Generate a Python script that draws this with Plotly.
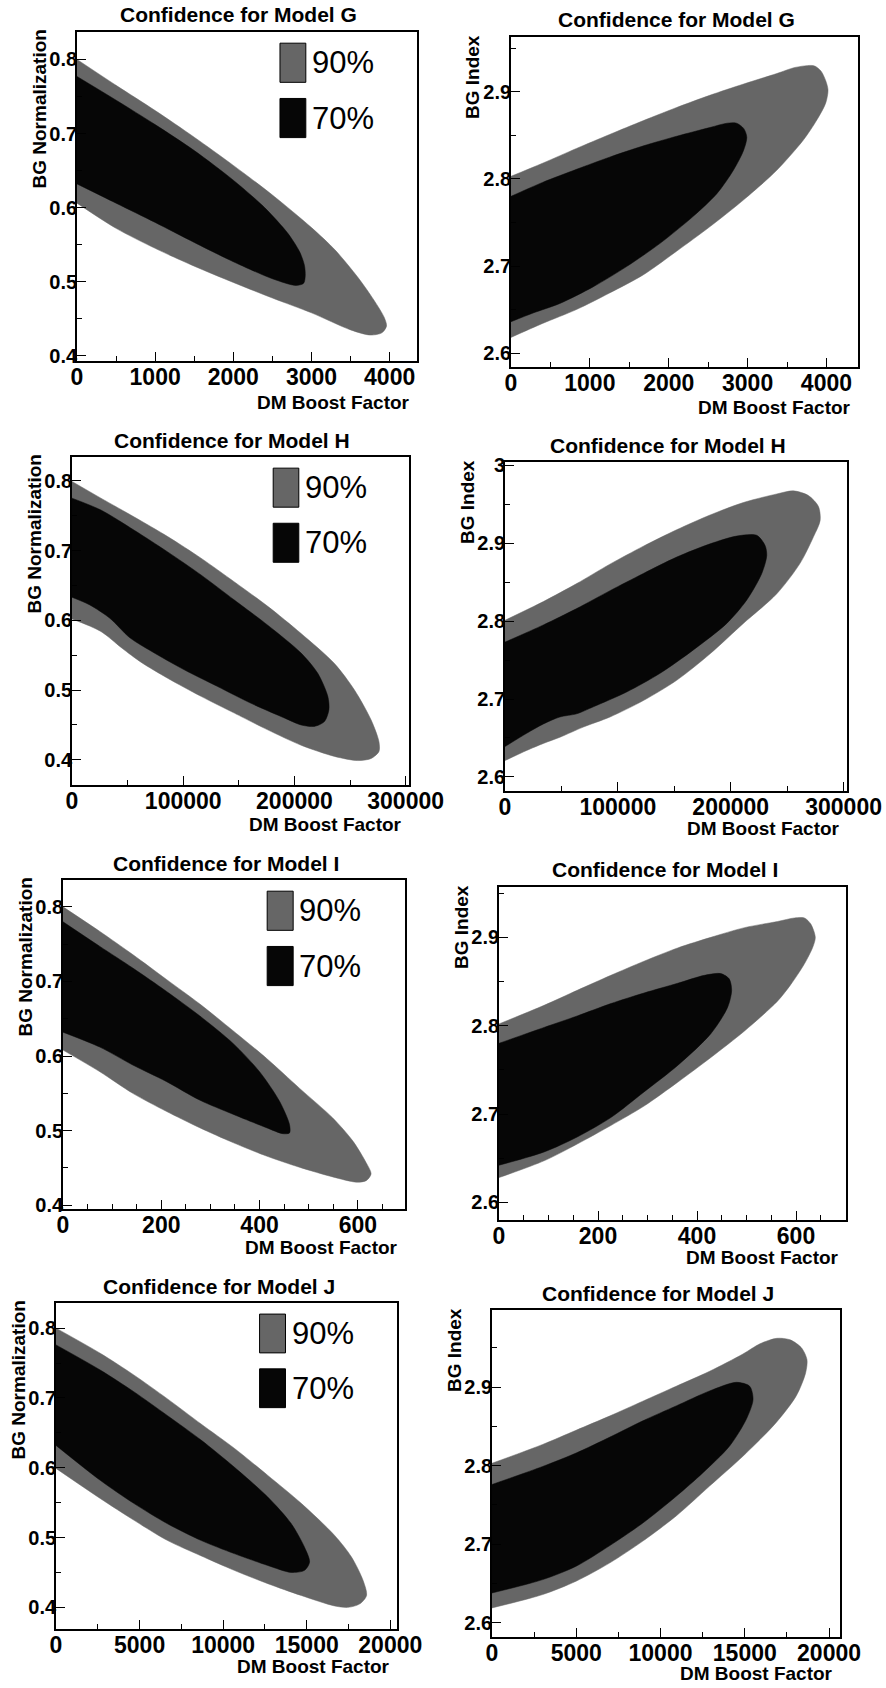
import plotly.graph_objects as go

W, H = 886, 1688

# ---------------- data ----------------
# Model G : BG Normalization vs DM Boost Factor
g_norm_90_x = [0, 500, 1000, 1500, 2000, 2500, 3000, 3300, 3600, 3800, 3930, 3960, 3900, 3750, 3500, 3000, 2500, 2000, 1500, 1000, 500, 0]
g_norm_90_y = [0.800, 0.765, 0.731, 0.695, 0.657, 0.617, 0.573, 0.543, 0.505, 0.475, 0.452, 0.440, 0.431, 0.428, 0.435, 0.458, 0.478, 0.499, 0.521, 0.545, 0.572, 0.606]
g_norm_70_x = [0, 500, 1000, 1500, 2000, 2400, 2700, 2850, 2910, 2920, 2900, 2800, 2500, 2000, 1500, 1000, 500, 0]
g_norm_70_y = [0.777, 0.745, 0.712, 0.677, 0.637, 0.600, 0.565, 0.540, 0.522, 0.508, 0.498, 0.495, 0.504, 0.527, 0.553, 0.580, 0.606, 0.632]

# Model G : BG Index vs DM Boost Factor
g_index_90_x = [0, 400, 830, 1250, 1680, 2100, 2520, 2950, 3370, 3600, 3840, 3930, 3990, 4020, 3990, 3880, 3710, 3370, 2950, 2520, 2100, 1680, 1250, 830, 400, 0]
g_index_90_y = [2.803, 2.818, 2.835, 2.851, 2.867, 2.882, 2.896, 2.909, 2.921, 2.928, 2.930, 2.924, 2.913, 2.902, 2.887, 2.868, 2.845, 2.810, 2.776, 2.745, 2.717, 2.690, 2.669, 2.650, 2.634, 2.618]
g_index_70_x = [0, 400, 830, 1250, 1680, 2100, 2520, 2740, 2860, 2950, 2990, 2950, 2820, 2610, 2310, 1890, 1460, 1040, 620, 280, 0]
g_index_70_y = [2.780, 2.796, 2.811, 2.825, 2.838, 2.849, 2.859, 2.864, 2.864, 2.858, 2.848, 2.833, 2.810, 2.783, 2.757, 2.726, 2.699, 2.676, 2.657, 2.646, 2.636]

# Model H : BG Normalization vs DM Boost Factor
h_norm_90_x = [0, 26000, 56000, 86000, 116000, 146000, 176000, 206000, 236000, 254000, 269000, 276000, 276000, 269000, 257000, 236000, 206000, 176000, 146000, 116000, 86000, 62000, 45000, 26000, 0]
h_norm_90_y = [0.799, 0.775, 0.748, 0.720, 0.689, 0.655, 0.620, 0.581, 0.538, 0.500, 0.457, 0.426, 0.412, 0.402, 0.399, 0.405, 0.421, 0.443, 0.467, 0.491, 0.517, 0.540, 0.560, 0.584, 0.602]
h_norm_70_x = [0, 26000, 56000, 86000, 116000, 146000, 176000, 206000, 221000, 230000, 231000, 227000, 218000, 206000, 191000, 161000, 131000, 101000, 71000, 52000, 34000, 16000, 0]
h_norm_70_y = [0.775, 0.758, 0.729, 0.698, 0.665, 0.629, 0.593, 0.553, 0.524, 0.491, 0.472, 0.455, 0.448, 0.450, 0.460, 0.481, 0.505, 0.529, 0.556, 0.575, 0.603, 0.622, 0.633]

# Model H : BG Index vs DM Boost Factor
h_index_90_x = [0, 34000, 63500, 93000, 122600, 152000, 181700, 211200, 240800, 255500, 268800, 277700, 279200, 273300, 261400, 240800, 211200, 181700, 152100, 122600, 93100, 69400, 48700, 34000, 19200, 0]
h_index_90_y = [2.801, 2.825, 2.848, 2.873, 2.896, 2.917, 2.936, 2.952, 2.963, 2.967, 2.961, 2.947, 2.929, 2.908, 2.874, 2.835, 2.797, 2.758, 2.724, 2.698, 2.677, 2.664, 2.651, 2.643, 2.634, 2.621]
h_index_70_x = [0, 34000, 63500, 93100, 122600, 152100, 181700, 205300, 223000, 230400, 231900, 227500, 214200, 196500, 166900, 137400, 107800, 78300, 63500, 48700, 34000, 19200, 0]
h_index_70_y = [2.773, 2.795, 2.816, 2.839, 2.861, 2.882, 2.899, 2.909, 2.910, 2.897, 2.884, 2.861, 2.827, 2.797, 2.763, 2.733, 2.709, 2.690, 2.681, 2.677, 2.668, 2.656, 2.639]

# Model I : BG Normalization vs DM Boost Factor
i_norm_90_x = [0, 75, 142, 210, 278, 346, 414, 481, 549, 590, 617, 627, 617, 597, 549, 481, 414, 346, 278, 210, 142, 75, 0]
i_norm_90_y = [0.800, 0.767, 0.736, 0.703, 0.670, 0.634, 0.597, 0.557, 0.517, 0.486, 0.457, 0.442, 0.433, 0.431, 0.438, 0.451, 0.466, 0.484, 0.504, 0.526, 0.550, 0.579, 0.608]
i_norm_70_x = [0, 75, 142, 210, 278, 346, 400, 441, 461, 461, 447, 414, 346, 278, 210, 142, 75, 0]
i_norm_70_y = [0.780, 0.747, 0.718, 0.687, 0.654, 0.617, 0.579, 0.539, 0.508, 0.497, 0.496, 0.504, 0.522, 0.541, 0.566, 0.588, 0.612, 0.632]

# Model I : BG Index vs DM Boost Factor
i_index_90_x = [0, 91, 158, 226, 293, 361, 428, 496, 563, 597, 617, 630, 639, 634, 617, 590, 563, 496, 428, 361, 293, 226, 158, 91, 0]
i_index_90_y = [2.802, 2.823, 2.840, 2.857, 2.873, 2.888, 2.900, 2.911, 2.918, 2.922, 2.922, 2.915, 2.900, 2.889, 2.870, 2.847, 2.828, 2.794, 2.764, 2.736, 2.709, 2.687, 2.666, 2.647, 2.628]
i_index_70_x = [0, 91, 158, 226, 293, 361, 415, 448, 465, 470, 462, 428, 361, 293, 226, 158, 91, 0]
i_index_70_y = [2.780, 2.798, 2.811, 2.825, 2.837, 2.848, 2.857, 2.859, 2.853, 2.840, 2.821, 2.791, 2.755, 2.725, 2.696, 2.674, 2.657, 2.642]

# Model J : BG Normalization vs DM Boost Factor
j_norm_90_x = [0, 2645, 4650, 6650, 8660, 10660, 12670, 14670, 16670, 17680, 18380, 18580, 18180, 17480, 16670, 14670, 12670, 10660, 8660, 6650, 4650, 2645, 0]
j_norm_90_y = [0.800, 0.764, 0.733, 0.699, 0.663, 0.628, 0.589, 0.549, 0.503, 0.472, 0.438, 0.417, 0.405, 0.400, 0.402, 0.417, 0.434, 0.453, 0.474, 0.496, 0.525, 0.556, 0.599]
j_norm_70_x = [0, 2645, 4650, 6650, 8660, 10660, 12670, 14070, 14870, 15170, 14870, 14070, 12670, 10660, 8660, 6650, 4650, 2645, 0]
j_norm_70_y = [0.776, 0.740, 0.709, 0.675, 0.640, 0.601, 0.558, 0.520, 0.486, 0.465, 0.453, 0.450, 0.460, 0.477, 0.496, 0.520, 0.549, 0.582, 0.632]

# Model J : BG Index vs DM Boost Factor
j_index_90_x = [0, 3010, 4990, 6970, 8950, 10930, 12910, 14890, 15900, 16900, 17700, 18360, 18690, 18610, 18060, 16870, 14890, 12910, 10930, 8950, 6970, 4990, 3010, 0]
j_index_90_y = [2.803, 2.827, 2.845, 2.863, 2.882, 2.901, 2.920, 2.942, 2.955, 2.962, 2.960, 2.950, 2.935, 2.918, 2.889, 2.855, 2.812, 2.774, 2.736, 2.704, 2.676, 2.653, 2.636, 2.619]
j_index_70_x = [0, 3010, 4990, 6970, 8950, 10930, 12910, 14500, 15290, 15490, 15090, 14100, 12520, 10930, 8950, 6970, 4990, 3010, 0]
j_index_70_y = [2.776, 2.799, 2.816, 2.836, 2.857, 2.876, 2.895, 2.906, 2.901, 2.884, 2.859, 2.825, 2.791, 2.761, 2.727, 2.698, 2.672, 2.655, 2.638]

# tick values / labels
x_ticks_G = [0, 1000, 2000, 3000, 4000]
x_ticks_H = [0, 100000, 200000, 300000]
x_ticks_I = [0, 200, 400, 600]
x_ticks_J = [0, 5000, 10000, 15000, 20000]
y_ticks_norm = [0.4, 0.5, 0.6, 0.7, 0.8]
y_ticklabels_norm = ["0.4", "0.5", "0.6", "0.7", "0.8"]
y_ticks_index = [2.6, 2.7, 2.8, 2.9, 3.0]
y_ticklabels_index = ["2.6", "2.7", "2.8", "2.9", "3"]

models = ["G", "H", "I", "J"]
level_names = ["90%", "70%"]

# ---------------- layout of panels (pixel frames) ----------------
FONT = "Liberation Sans, Arial, Helvetica, sans-serif"
GRAY = "#666666"
BLACK = "#060606"

panels = [
    # model, kind, (L, R, T, B), xrange, yrange, xticks, xminor, 90x, 90y, 70x, 70y, xlabel offset
    ("G", "norm", (77, 417, 32, 361), (0, 4350), (0.393, 0.837), x_ticks_G, 500,
     g_norm_90_x, g_norm_90_y, g_norm_70_x, g_norm_70_y, 41),
    ("G", "index", (511, 858, 37, 367), (0, 4400), (2.584, 2.963), x_ticks_G, 500,
     g_index_90_x, g_index_90_y, g_index_70_x, g_index_70_y, 40),
    ("H", "norm", (72, 409, 457, 785), (0, 303000), (0.364, 0.834), x_ticks_H, 50000,
     h_norm_90_x, h_norm_90_y, h_norm_70_x, h_norm_70_y, 39),
    ("H", "index", (505, 847, 462, 791), (0, 303000), (2.582, 3.004), x_ticks_H, 50000,
     h_index_90_x, h_index_90_y, h_index_70_x, h_index_70_y, 38),
    ("I", "norm", (63, 405, 880, 1209), (0, 696), (0.395, 0.836), x_ticks_I, 50,
     i_norm_90_x, i_norm_90_y, i_norm_70_x, i_norm_70_y, 38),
    ("I", "index", (499, 846, 887, 1220), (0, 701), (2.58, 2.957), x_ticks_I, 50,
     i_index_90_x, i_index_90_y, i_index_70_x, i_index_70_y, 37),
    ("J", "norm", (56, 397, 1303, 1629), (0, 20400), (0.369, 0.836), x_ticks_J, 2500,
     j_norm_90_x, j_norm_90_y, j_norm_70_x, j_norm_70_y, 37),
    ("J", "index", (492, 840, 1310, 1637), (0, 20650), (2.582, 2.998), x_ticks_J, 2500,
     j_index_90_x, j_index_90_y, j_index_70_x, j_index_70_y, 36),
]


def px(x):
    return x / W


def py(y):
    return 1 - y / H


fig = go.Figure()
annotations = []
shapes = []
layout_axes = {}

for i, (model, kind, (L, R, T, B), xr, yr, xticks, xminor,
        x90, y90, x70, y70, xlab_off) in enumerate(panels, start=1):
    xa = "x" if i == 1 else f"x{i}"
    ya = "y" if i == 1 else f"y{i}"
    for xs, ys, col in ((x90, y90, GRAY), (x70, y70, BLACK)):
        fig.add_trace(go.Scatter(
            x=xs, y=ys, xaxis=xa, yaxis=ya, mode="lines",
            line=dict(color=col, width=0.5, shape="spline", smoothing=0.8),
            fill="toself", fillcolor=col, hoverinfo="skip", showlegend=False))

    if kind == "norm":
        yt, ytl, ytitle = y_ticks_norm, y_ticklabels_norm, "BG Normalization"
    else:
        yt, ytl, ytitle = y_ticks_index, y_ticklabels_index, "BG Index"

    common = dict(showline=True, linecolor="black", linewidth=1.8, mirror=True,
                  ticks="inside", ticklen=9, tickwidth=1.4, tickcolor="black",
                  showgrid=False, zeroline=False, fixedrange=True, automargin=False)
    layout_axes["xaxis" if i == 1 else f"xaxis{i}"] = dict(
        domain=[px(L), px(R)], range=list(xr), anchor=ya,
        tickmode="array", tickvals=xticks, ticktext=[str(v) for v in xticks],
        tickfont=dict(family=FONT, size=23, color="black", weight="bold"),
        ticklabelstandoff=-6,
        minor=dict(ticks="inside", ticklen=5, tickwidth=1.2, tickcolor="black",
                   tickmode="linear", tick0=0, dtick=xminor, showgrid=False),
        **common)
    layout_axes["yaxis" if i == 1 else f"yaxis{i}"] = dict(
        domain=[py(B), py(T)], range=list(yr), anchor=xa,
        tickmode="array", tickvals=yt, ticktext=ytl,
        tickfont=dict(family=FONT, size=20, color="black", weight="bold"),
        ticklabelstandoff=-6,
        minor=dict(ticks="inside", ticklen=5, tickwidth=1.2, tickcolor="black",
                   tickmode="linear", tick0=0, dtick=0.05, showgrid=False),
        **common)

    # panel title
    annotations.append(dict(
        text=f"<b>Confidence for Model {model}</b>", xref="paper", yref="paper",
        x=px((L + R) / 2 - 8), y=py(T - 17), xanchor="center", yanchor="middle",
        showarrow=False, font=dict(family=FONT, size=21, color="black")))
    # x axis title
    annotations.append(dict(
        text="<b>DM Boost Factor</b>", xref="paper", yref="paper",
        x=px(R - 5), y=py(B + xlab_off), xanchor="right", yanchor="middle",
        showarrow=False, font=dict(family=FONT, size=19, color="black")))
    # y axis title
    annotations.append(dict(
        text=f"<b>{ytitle}</b>", xref="paper", yref="paper", textangle=-90,
        x=px(L - 38), y=py(T - 4), xanchor="center", yanchor="top",
        showarrow=False, font=dict(family=FONT, size=19, color="black")))

    # legend boxes for the left-column panels
    if kind == "norm":
        for (y0, y1, col, name) in ((0.847, 0.966, GRAY, level_names[0]),
                                    (0.679, 0.798, BLACK, level_names[1])):
            shapes.append(dict(type="rect", xref=f"{xa} domain", yref=f"{ya} domain",
                               x0=0.597, x1=0.673, y0=y0, y1=y1,
                               fillcolor=col, line=dict(color="black", width=1)))
            annotations.append(dict(
                text=name, xref=f"{xa} domain", yref=f"{ya} domain",
                x=0.685, y=(y0 + y1) / 2, xanchor="left", yanchor="middle",
                showarrow=False, font=dict(family=FONT, size=31, color="black")))

fig.update_layout(
    width=W, height=H, autosize=False,
    margin=dict(l=0, r=0, t=0, b=0, autoexpand=False),
    paper_bgcolor="white", plot_bgcolor="white",
    annotations=annotations, shapes=shapes,
    **layout_axes)

fig.write_html(
    "out.html",
    config={"displayModeBar": False},
    post_script="document.body.style.margin='0';document.body.style.padding='0';"
                "document.body.style.overflow='hidden';")
